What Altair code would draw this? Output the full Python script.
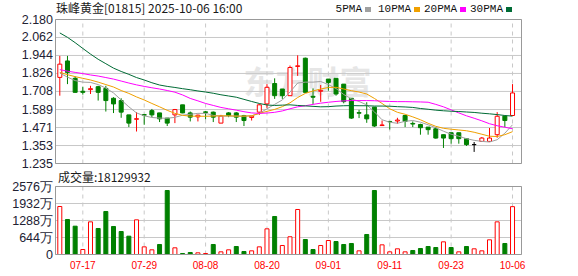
import altair as alt
import pandas as pd

# ---------------- data ----------------
DATES = ["07-14","07-15","07-16","07-17","07-18","07-21","07-22","07-23","07-24","07-25",
         "07-28","07-29","07-30","07-31","08-01","08-04","08-05","08-06","08-07","08-08",
         "08-11","08-12","08-13","08-14","08-15","08-18","08-19","08-20","08-21","08-22",
         "08-25","08-26","08-27","08-28","08-29","09-01","09-02","09-03","09-04","09-05",
         "09-08","09-09","09-10","09-11","09-12","09-15","09-16","09-17","09-18","09-19",
         "09-22","09-23","09-24","09-25","09-26","09-29","09-30","10-02","10-03","10-06"]

OPEN = [1.800,1.908,1.794,1.709,1.720,1.739,1.728,1.663,1.648,1.554,
        1.525,1.556,1.582,1.567,1.533,1.554,1.620,1.567,1.541,1.574,
        1.572,1.500,1.567,1.567,1.550,1.537,1.572,1.626,1.760,1.724,
        1.680,1.872,1.926,1.676,1.709,1.789,1.794,1.756,1.663,1.569,
        1.554,1.605,1.484,1.511,1.514,1.550,1.498,1.491,1.474,1.463,
        1.424,1.437,1.437,1.398,1.359,1.380,1.380,1.424,1.546,1.550]
HIGH = [1.941,1.941,1.807,1.739,1.745,1.745,1.745,1.670,1.663,1.554,
        1.572,1.560,1.593,1.567,1.533,1.593,1.620,1.576,1.556,1.580,
        1.576,1.554,1.572,1.572,1.554,1.548,1.626,1.756,1.794,1.724,
        1.878,1.945,1.930,1.728,1.750,1.789,1.794,1.756,1.663,1.587,
        1.637,1.605,1.517,1.513,1.535,1.552,1.511,1.496,1.474,1.474,
        1.424,1.437,1.437,1.398,1.376,1.409,1.468,1.572,1.548,1.756]
LOW = [1.680,1.756,1.700,1.687,1.691,1.648,1.576,1.566,1.535,1.474,
       1.445,1.489,1.539,1.507,1.481,1.500,1.565,1.511,1.511,1.525,
       1.507,1.500,1.539,1.507,1.481,1.517,1.554,1.600,1.659,1.659,
       1.680,1.810,1.700,1.626,1.640,1.713,1.680,1.630,1.528,1.533,
       1.502,1.475,1.484,1.458,1.496,1.474,1.474,1.424,1.424,1.398,
       1.337,1.365,1.365,1.350,1.311,1.380,1.380,1.404,1.474,1.550]
CLOSE = [1.887,1.833,1.702,1.702,1.726,1.702,1.648,1.626,1.572,1.500,
         1.529,1.552,1.554,1.528,1.500,1.589,1.567,1.539,1.552,1.570,
         1.539,1.546,1.550,1.539,1.517,1.546,1.620,1.735,1.680,1.680,
         1.865,1.876,1.702,1.670,1.715,1.767,1.691,1.641,1.533,1.565,
         1.528,1.481,1.488,1.509,1.520,1.511,1.494,1.470,1.457,1.402,
         1.402,1.398,1.398,1.359,1.359,1.402,1.402,1.545,1.517,1.698]

# volume in 万 shares
VOLUME = [1818,1326,1073,189,1237,985,1629,1061,871,694,
          1313,290,177,379,2424,253,38,76,63,38,
          379,101,177,303,114,139,290,972,1440,341,
          672,1705,568,189,341,530,492,379,417,139,
          758,2424,366,101,215,101,152,227,303,265,
          480,265,101,303,215,139,556,1237,417,1812.9932]
# 1 = red (up) volume bar, 0 = green (down)
VOL_UP = [1,0,0,1,1,0,0,0,0,0,
          1,1,1,0,0,1,0,0,1,1,
          0,1,1,0,0,1,1,1,0,1,
          1,1,0,0,1,1,0,0,0,1,
          0,0,1,1,1,1,0,0,0,0,
          1,0,1,0,1,1,1,1,0,1]

MA5 = [1.828,1.802,1.779,1.769,1.767,1.753,1.730,1.698,1.652,1.607,
       1.567,1.548,1.537,1.533,1.532,1.538,1.552,1.558,1.564,1.564,
       1.551,1.546,1.546,1.546,1.546,1.548,1.564,1.594,1.623,1.652,
       1.704,1.763,1.769,1.769,1.773,1.753,1.727,1.688,1.659,1.642,
       1.620,1.574,1.522,1.506,1.499,1.512,1.517,1.506,1.489,1.470,
       1.447,1.427,1.414,1.398,1.387,1.380,1.376,1.391,1.434,1.489]
MA10 = [1.833,1.818,1.805,1.794,1.783,1.769,1.753,1.737,1.714,1.695,
        1.672,1.652,1.629,1.607,1.584,1.564,1.551,1.546,1.545,1.545,
        1.546,1.548,1.548,1.546,1.546,1.548,1.564,1.577,1.590,1.608,
        1.633,1.668,1.695,1.711,1.724,1.734,1.735,1.724,1.713,1.704,
        1.691,1.662,1.629,1.594,1.571,1.558,1.541,1.522,1.499,1.479,
        1.466,1.460,1.455,1.450,1.440,1.427,1.414,1.412,1.424,1.444]
MA20 = [1.851,1.841,1.833,1.825,1.816,1.809,1.799,1.789,1.776,1.763,
        1.751,1.741,1.732,1.724,1.714,1.703,1.685,1.662,1.646,1.629,
        1.616,1.603,1.594,1.585,1.575,1.567,1.564,1.566,1.571,1.580,
        1.594,1.607,1.614,1.623,1.631,1.637,1.642,1.646,1.648,1.648,
        1.648,1.647,1.644,1.642,1.641,1.641,1.640,1.639,1.637,1.623,
        1.607,1.587,1.567,1.548,1.532,1.515,1.496,1.483,1.473,1.463]
MA30 = [2.092,2.063,2.028,1.990,1.953,1.919,1.890,1.861,1.839,1.820,
        1.799,1.783,1.765,1.750,1.741,1.734,1.726,1.719,1.711,1.704,
        1.696,1.686,1.678,1.670,1.656,1.642,1.629,1.619,1.616,1.618,
        1.620,1.616,1.613,1.610,1.607,1.608,1.612,1.614,1.615,1.614,
        1.614,1.612,1.612,1.611,1.608,1.606,1.603,1.596,1.591,1.585,
        1.581,1.578,1.576,1.573,1.570,1.565,1.561,1.556,1.550,1.546]

MA_NAMES = ["5PMA", "10PMA", "20PMA", "30PMA"]
PRICE_TICKS = [1.235, 1.353, 1.471, 1.589, 1.708, 1.826, 1.944, 2.062, 2.180]
VOL_TICKS = [0, 644, 1288, 1932, 2576]
LABEL_DATES = ["07-17", "07-29", "08-08", "08-20", "09-01", "09-11", "09-23", "10-06"]
TITLE = "珠峰黄金[01815] 2025-10-06 16:00"
VOL_TITLE = "成交量:" + str(round(VOLUME[-1] * 10000))
WATERMARK = "东方财富"

# ---------------- layout / style ----------------
W, H = 466, 235
PRICE_H, VOL_TOP = 144, 167
X_DOMAIN = [-0.56, 60.17]
RED, GREEN, BLACK = "#ff0000", "#008000", "#000000"
MA_COLORS = ["#a0a0a0", "#f0a000", "#ff00ff", "#006b35"]
GRID = "#c8c8c8"
FRAME = "#999999"
LABEL_COLOR = "#222233"
SWATCH_X = [309, 358, 404, 450]

N = len(DATES)
IDX = list(range(N))
TICK_IDX = [DATES.index(d) for d in LABEL_DATES]

KINDS = ["up", "down", "flat"]
STROKE = alt.Scale(domain=KINDS, range=[RED, GREEN, BLACK])
FILL = alt.Scale(domain=KINDS, range=["#ffffff", GREEN, BLACK])
LINE_NAMES = MA_NAMES + ["grid", "frame"]
LINE_SCALE = alt.Scale(domain=LINE_NAMES, range=MA_COLORS + [GRID, FRAME])


def xs():
    return alt.Scale(domain=X_DOMAIN, nice=False, zero=False, padding=0)


def ps():
    return alt.Scale(domain=[PRICE_TICKS[0], PRICE_TICKS[-1]], range=[PRICE_H, 0],
                     nice=False, zero=False, padding=0)


def vs():
    return alt.Scale(domain=[VOL_TICKS[0], VOL_TICKS[-1]], range=[H, VOL_TOP],
                     nice=False, zero=False, padding=0)


def X(field):
    return alt.X(field, type="quantitative", scale=xs(), axis=None)


def PY(field):
    return alt.Y(field, type="quantitative", scale=ps(), axis=None)


def VY(field):
    return alt.Y(field, type="quantitative", scale=vs(), axis=None, stack=None)


def LC():
    return alt.Color("name:N", scale=LINE_SCALE, legend=None)


def direction(o, c):
    return "up" if c > o else ("down" if c < o else "flat")


cdf = pd.DataFrame({"i": IDX, "open": OPEN, "high": HIGH, "low": LOW, "close": CLOSE})
cdf["kind"] = [direction(o, c) for o, c in zip(OPEN, CLOSE)]
vdf = pd.DataFrame({"i": IDX, "vol": VOLUME, "kind": ["up" if u else "down" for u in VOL_UP]})
mdf = pd.concat([pd.DataFrame({"i": IDX, "v": vals, "name": name})
                 for name, vals in zip(MA_NAMES, [MA5, MA10, MA20, MA30])], ignore_index=True)

xa, xb = X_DOMAIN
pa, pb = PRICE_TICKS[0], PRICE_TICKS[-1]
va, vb = VOL_TICKS[0], VOL_TICKS[-1]


def hlines(ticks, prefix):
    rows = []
    for k, t in enumerate(ticks):
        rows.append({"x": xa, "y": t, "id": "%s%d" % (prefix, k), "o": 0, "name": "grid"})
        rows.append({"x": xb, "y": t, "id": "%s%d" % (prefix, k), "o": 1, "name": "grid"})
    return pd.DataFrame(rows)


def vlines(lo, hi, prefix):
    rows = []
    for k, t in enumerate(TICK_IDX):
        rows.append({"x": t, "y": lo, "id": "%s%d" % (prefix, k), "o": 0, "name": "grid"})
        rows.append({"x": t, "y": hi, "id": "%s%d" % (prefix, k), "o": 1, "name": "grid"})
    return pd.DataFrame(rows)


def frame(lo, hi):
    pts = [(xa, lo), (xb, lo), (xb, hi), (xa, hi), (xa, lo)]
    return pd.DataFrame({"x": [p[0] for p in pts], "y": [p[1] for p in pts],
                         "o": list(range(len(pts))), "id": ["f"] * len(pts),
                         "name": ["frame"] * len(pts)})


p_h, v_h = hlines(PRICE_TICKS, "p"), hlines(VOL_TICKS, "v")
p_v, v_v = vlines(pa, pb, "pv"), vlines(va, vb, "vv")
p_f, v_f = frame(pa, pb), frame(va, vb)

p_lab = pd.DataFrame({"y": PRICE_TICKS, "label": ["%.3f" % t for t in PRICE_TICKS]})
v_lab = pd.DataFrame({"y": VOL_TICKS, "label": [("%d万" % t) if t else "0" for t in VOL_TICKS]})
x_lab = pd.DataFrame({"i": TICK_IDX, "label": LABEL_DATES})
one = pd.DataFrame({"k": [0]})

layers = []

# watermark
layers.append(alt.Chart(one).mark_text(text=WATERMARK, font="Noto Sans CJK SC", fontSize=32,
                                       fontWeight="bold", color="#e6e6e6", align="center",
                                       baseline="middle").encode(x=alt.value(252), y=alt.value(64)))


def line_layer(df, yfun, dash=None):
    kw = {"strokeWidth": 1}
    if dash:
        kw["strokeDash"] = dash
    return alt.Chart(df).mark_line(**kw).encode(
        x=X("x"), y=yfun("y"), detail="id:N", order="o:Q", color=LC())


# grids
layers.append(line_layer(p_h, PY))
layers.append(line_layer(v_h, VY))
layers.append(line_layer(p_v, PY, [4, 4]))
layers.append(line_layer(v_v, VY, [4, 4]))

# candles
layers.append(alt.Chart(cdf).mark_rule(strokeWidth=1).encode(
    x=X("i"), y=PY("low"), y2="high", stroke=alt.Stroke("kind:N", scale=STROKE, legend=None)))
layers.append(alt.Chart(cdf).mark_bar(size=4, strokeWidth=1, orient="vertical").encode(
    x=X("i"), y=PY("open"), y2="close",
    fill=alt.Fill("kind:N", scale=FILL, legend=None),
    stroke=alt.Stroke("kind:N", scale=STROKE, legend=None)))

# moving averages
layers.append(alt.Chart(mdf).mark_line(strokeWidth=1).encode(
    x=X("i"), y=PY("v"), color=LC()))

# volume
layers.append(alt.Chart(vdf).mark_bar(size=4, strokeWidth=1, orient="vertical").encode(
    x=X("i"), y=VY("vol"),
    fill=alt.Fill("kind:N", scale=FILL, legend=None),
    stroke=alt.Stroke("kind:N", scale=STROKE, legend=None)))

# frames
layers.append(line_layer(p_f, PY))
layers.append(line_layer(v_f, VY))

# tick labels
layers.append(alt.Chart(p_lab).mark_text(align="right", baseline="middle", font="Liberation Sans",
                                         fontSize=12.5, color=LABEL_COLOR).encode(
    x=alt.value(-2.5), y=PY("y"), text="label:N"))
layers.append(alt.Chart(v_lab).mark_text(align="right", baseline="middle", font="Liberation Sans",
                                         fontSize=12.5, color=LABEL_COLOR).encode(
    x=alt.value(-2.5), y=VY("y"), text="label:N"))
layers.append(alt.Chart(x_lab).mark_text(align="center", baseline="middle", font="Liberation Sans",
                                         fontSize=10, color=RED).encode(
    x=X("i"), y=alt.value(H + 11), text="label:N"))

# titles
layers.append(alt.Chart(one).mark_text(text=TITLE, font="Noto Sans CJK SC", fontSize=12,
                                       color="#1a1a1a", align="left", baseline="middle").encode(
    x=alt.value(0.5), y=alt.value(-11)))
layers.append(alt.Chart(one).mark_text(text=VOL_TITLE, font="Noto Sans CJK SC", fontSize=12,
                                       color="#1a1a1a", align="left", baseline="middle").encode(
    x=alt.value(2.5), y=alt.value(158)))

# legend
for name, col, sx in zip(MA_NAMES, MA_COLORS, SWATCH_X):
    layers.append(
        alt.Chart(one).mark_text(text=name, font="Liberation Mono", fontSize=11, color="#111111",
                                 align="right", baseline="middle").encode(
            x=alt.value(sx - 2.5), y=alt.value(-10.5)))
    layers.append(
        alt.Chart(one).mark_rect(color=col).encode(
            x=alt.value(sx + 0.5), x2=alt.value(sx + 6.5), y=alt.value(-12.5), y2=alt.value(-7.5)))

chart = alt.layer(*layers).resolve_scale(y="independent").properties(
    width=W, height=H,
    padding={"left": 55.5, "top": 19.5, "right": 56.5, "bottom": 21.5},
    autosize=alt.AutoSizeParams(type="none"),
    background="white",
).configure_view(stroke=None)

chart.save("out.html", embed_options={"renderer": "svg", "actions": False})
